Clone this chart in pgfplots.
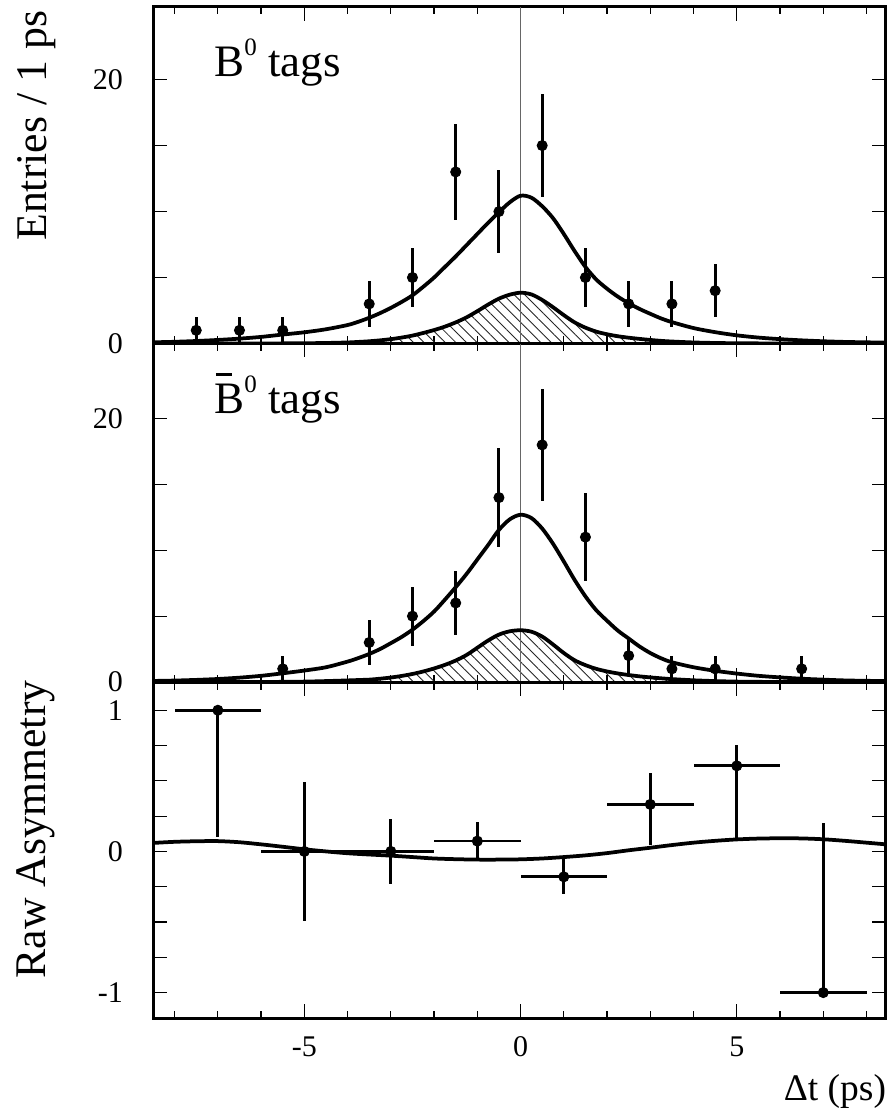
\documentclass[border=0pt]{standalone}
\usepackage{fontspec}
\setmainfont{Liberation Serif}
\usepackage{pgfplots}
\usepackage{pgfplotstable}
\pgfplotsset{compat=1.18}
\usetikzlibrary{patterns.meta}

% ---------- data points ----------
\pgfplotstableread{
x y e
-7.5 1 1
-6.5 1 1
-5.5 1 1
-3.5 3 1.73
-2.5 5 2.24
-1.5 13 3.61
-0.5 10 3.16
0.5 15 3.87
1.5 5 2.24
2.5 3 1.73
3.5 3 1.73
4.5 4 2
}\topdata

\pgfplotstableread{
x y e
-5.5 1 1
-3.5 3 1.73
-2.5 5 2.24
-1.5 6 2.45
-0.5 14 3.74
0.5 18 4.24
1.5 11 3.32
2.5 2 1.41
3.5 1 1
4.5 1 1
6.5 1 1
}\middata

\pgfplotstableread{
x y ex ep em
-7 1.0 1 0 0.9
-5 0.0 1 0.49 0.49
-3 0.0 1 0.23 0.23
-1 0.073 1 0.135 0.118
1 -0.18 1 0.135 0.12
3 0.333 1 0.22 0.29
5 0.606 1 0.147 0.516
7 -1.0 1 1.2 0
}\asymdata

% ---------- fitted curves ----------
\pgfplotstableread{
x y
-8.5 0.09
-8 0.13
-7.5 0.19
-7 0.27
-6.5 0.37
-6 0.50
-5.5 0.68
-5 0.85
-4.5 1.08
-4 1.40
-3.75 1.65
-3.5 1.95
-3.25 2.30
-3 2.70
-2.75 3.15
-2.5 3.65
-2.25 4.30
-2 5.00
-1.75 5.80
-1.5 6.60
-1.25 7.45
-1 8.30
-0.75 9.15
-0.5 9.95
-0.25 10.70
0 11.20
0.25 11.05
0.5 10.40
0.75 9.50
1 8.30
1.25 7.00
1.5 5.80
1.75 4.85
2 4.15
2.25 3.55
2.5 3.05
2.75 2.62
3 2.25
3.25 1.90
3.5 1.62
4 1.17
4.5 0.86
5 0.62
5.5 0.45
6 0.33
6.5 0.24
7 0.17
7.5 0.12
8 0.09
8.45 0.07
}\topfit

\pgfplotstableread{
x y
-8.5 0
-6 0
-5.5 0.01
-5 0.02
-4.5 0.04
-4 0.08
-3.75 0.12
-3.5 0.17
-3.25 0.24
-3 0.33
-2.75 0.45
-2.5 0.60
-2.25 0.80
-2 1.02
-1.75 1.28
-1.5 1.60
-1.25 1.98
-1 2.45
-0.75 2.95
-0.5 3.40
-0.25 3.70
0 3.85
0.25 3.72
0.5 3.30
0.75 2.75
1 2.15
1.25 1.60
1.5 1.20
1.75 0.90
2 0.70
2.25 0.55
2.5 0.44
2.75 0.35
3 0.27
3.25 0.20
3.5 0.15
4 0.08
4.5 0.04
5 0.02
5.5 0.01
6 0
8.45 0
}\topbkg

\pgfplotstableread{
x y
-8.5 0.08
-8 0.11
-7.5 0.16
-7 0.23
-6.5 0.33
-6 0.47
-5.5 0.66
-5 0.87
-4.5 1.12
-4 1.55
-3.75 1.82
-3.5 2.13
-3.25 2.50
-3 2.95
-2.75 3.42
-2.5 3.97
-2.25 4.62
-2 5.35
-1.75 6.25
-1.5 7.20
-1.25 8.20
-1 9.30
-0.75 10.40
-0.5 11.55
-0.25 12.35
0 12.70
0.25 12.45
0.5 11.65
0.75 10.50
1 9.15
1.25 7.75
1.5 6.50
1.75 5.45
2 4.65
2.25 3.90
2.5 3.30
2.75 2.70
3 2.20
3.25 1.80
3.5 1.50
4 1.12
4.5 0.85
5 0.64
5.5 0.47
6 0.35
6.5 0.25
7 0.18
7.5 0.12
8 0.09
8.45 0.07
}\midfit

\pgfplotstableread{
x y
-8.5 0
-6 0
-5.5 0.015
-5 0.03
-4.5 0.07
-4 0.12
-3.75 0.15
-3.5 0.18
-3.25 0.25
-3 0.34
-2.75 0.46
-2.5 0.61
-2.25 0.80
-2 1.03
-1.75 1.30
-1.5 1.63
-1.25 2.05
-1 2.60
-0.75 3.15
-0.5 3.60
-0.25 3.85
0 3.93
0.25 3.82
0.5 3.45
0.75 2.85
1 2.20
1.25 1.65
1.5 1.28
1.75 1.00
2 0.80
2.25 0.65
2.5 0.53
2.75 0.43
3 0.35
3.25 0.28
3.5 0.22
4 0.13
4.5 0.07
5 0.03
5.5 0.015
6 0
8.45 0
}\midbkg

\pgfplotstableread{
x y
-8.5 0.060
-8 0.068
-7.5 0.072
-7 0.073
-6.5 0.065
-6 0.050
-5.5 0.033
-5 0.015
-4.5 0.0
-4 -0.013
-3.5 -0.022
-3 -0.030
-2.5 -0.040
-2 -0.050
-1.5 -0.055
-1 -0.058
-0.5 -0.058
0 -0.056
0.5 -0.050
1 -0.040
1.5 -0.028
2 -0.012
2.5 0.008
3 0.026
3.5 0.045
4 0.062
4.5 0.075
5 0.085
5.5 0.091
6 0.093
6.5 0.092
7 0.086
7.5 0.075
8 0.062
8.45 0.050
}\asymfit

\pgfplotsset{
  panel/.style={
    scale only axis,
    width=293.2pt,
    xmin=-8.5, xmax=8.45,
    axis line style={line width=1.2pt},
    tick align=inside,
    every tick/.style={black, line width=0.5pt},
    major tick length=5.5pt,
    minor tick length=3pt,
    xtick={-5,0,5},
    minor xtick={-8,-7,-6,-4,-3,-2,-1,1,2,3,4,6,7,8},
    tick label style={font=\fontsize{12}{14}\selectfont},
    yticklabel shift=8.5pt,
    xticklabel shift=4pt,
    clip=true,
  },
  datapts/.style={black, only marks, mark=*, mark size=2pt,
    error bars/.cd, y dir=both, y explicit, error mark=none,
    error bar style={line width=1.2pt}},
  fitline/.style={black, line width=1.5pt, smooth, no markers},
  hatch/.style={draw=none, smooth, pattern={Lines[angle=-45,distance=3pt,line width=0.35pt]}, pattern color=black!85},
}

\begin{document}
\begin{tikzpicture}
\path[use as bounding box] (0,0) rectangle (356pt,-446.8pt);

% ---------- B0 tags ----------
\begin{axis}[panel, at={(61.2pt,-2.8pt)}, anchor=north west, height=134.6pt,
  ymin=0, ymax=25.5, ytick={0,5,10,15,20}, yticklabels={0,,,,20},
  xticklabels={}]
  \addplot[hatch] table[x=x,y=y] {\topbkg} \closedcycle;
  \addplot[black!60, line width=0.6pt] coordinates {(0,0) (0,25.5)};
  \addplot[fitline] table[x=x,y=y] {\topbkg};
  \addplot[fitline] table[x=x,y=y] {\topfit};
  \addplot[datapts] table[x=x,y=y,y error=e] {\topdata};
  \node[anchor=base west, inner sep=0, font=\fontsize{18}{20}\selectfont]
    at (rel axis cs:0.083,0.792) {B\raisebox{8.6pt}{\fontsize{10}{10}\selectfont 0} tags};
\end{axis}

% ---------- B0bar tags ----------
\begin{axis}[panel, at={(61.2pt,-137.4pt)}, anchor=north west, height=135.4pt,
  ymin=0, ymax=25.7, ytick={0,5,10,15,20}, yticklabels={0,,,,20},
  xticklabels={}]
  \addplot[hatch] table[x=x,y=y] {\midbkg} \closedcycle;
  \addplot[black!60, line width=0.6pt] coordinates {(0,0) (0,25.7)};
  \addplot[fitline] table[x=x,y=y] {\midbkg};
  \addplot[fitline] table[x=x,y=y] {\midfit};
  \addplot[datapts] table[x=x,y=y,y error=e] {\middata};
  \node[anchor=base west, inner sep=0, font=\fontsize{18}{20}\selectfont]
    at (rel axis cs:0.083,0.792) {\makebox[0pt][l]{\hspace{0.6pt}\rule[15.2pt]{6.5pt}{1pt}}B\raisebox{8.6pt}{\fontsize{10}{10}\selectfont 0} tags};
\end{axis}

% ---------- Raw asymmetry ----------
\begin{axis}[panel, at={(61.2pt,-272.8pt)}, anchor=north west, height=134.4pt,
  ymin=-1.18, ymax=1.2,
  ytick={-1,-0.75,-0.5,-0.25,0,0.25,0.5,0.75,1},
  yticklabels={-1,,,,0,,,,1},
  xticklabels={-5,0,5}]
  \addplot[fitline] table[x=x,y=y] {\asymfit};
  \addplot[black, only marks, mark=*, mark size=2pt,
    error bars/.cd, x dir=both, x explicit, y dir=both, y explicit,
    error mark=none, error bar style={line width=1.1pt}]
    table[x=x, y=y, x error=ex, y error plus=ep, y error minus=em] {\asymdata};
\end{axis}

% ---------- axis titles ----------
\node[rotate=90, anchor=south east, inner sep=0, font=\fontsize{17.5}{20}\selectfont]
  at (22.6pt,-4.2pt) {Entries / 1 ps};
\node[rotate=90, anchor=south east, inner sep=0, font=\fontsize{17.5}{20}\selectfont]
  at (22pt,-272pt) {Raw Asymmetry};
\node[anchor=base east, inner sep=0, font=\fontsize{15}{18}\selectfont]
  at (354.6pt,-440pt) {Δt (ps)};
\end{tikzpicture}
\end{document}
